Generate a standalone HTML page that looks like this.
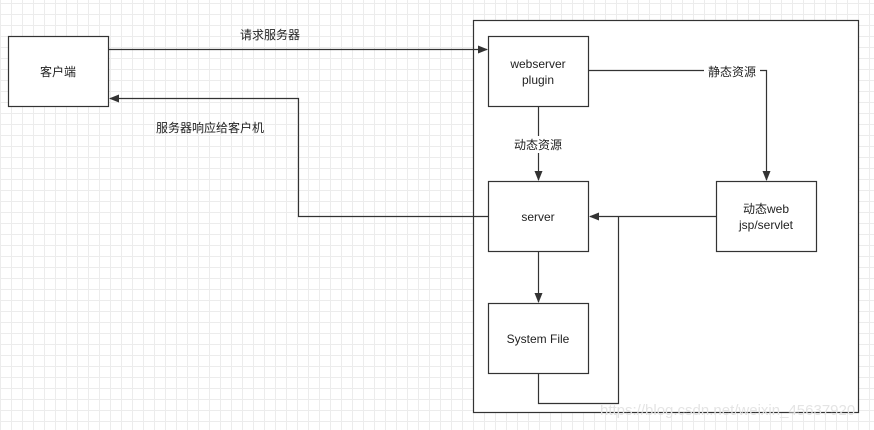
<!DOCTYPE html>
<html><head><meta charset="utf-8"><style>
body{margin:0;width:874px;height:430px;overflow:hidden;background:#fff;
background-image:linear-gradient(#ececec 1px,transparent 1px),linear-gradient(90deg,#ececec 1px,transparent 1px);
background-size:11px 11px;background-position:0 3px;}
svg{position:absolute;left:0;top:0}
text{font-family:"Liberation Sans","Noto Sans CJK SC",sans-serif;font-size:12px;fill:#222}
</style></head><body>
<svg width="874" height="430">
<defs><marker id="a" markerWidth="10" markerHeight="8" refX="9" refY="4" orient="auto" markerUnits="userSpaceOnUse"><path d="M0,0L10,4L0,8z" fill="#333"/></marker></defs>
<g fill="#fff" stroke="#333" stroke-width="1.2">
<rect x="473.5" y="20.5" width="385" height="392"/>
<rect x="8.5" y="36.5" width="100" height="70"/>
<rect x="488.5" y="36.5" width="100" height="70"/>
<rect x="488.5" y="181.5" width="100" height="70"/>
<rect x="488.5" y="303.5" width="100" height="70"/>
<rect x="716.5" y="181.5" width="100" height="70"/>
</g>
<g fill="none" stroke="#333" stroke-width="1.2">
<path d="M108.5,49.5H487" marker-end="url(#a)"/>
<path d="M488,216.5H298.5V98.5H110" marker-end="url(#a)"/>
<path d="M538.5,106V180" marker-end="url(#a)"/>
<path d="M588,70.5H766.5V180" marker-end="url(#a)"/>
<path d="M716,216.5H590" marker-end="url(#a)"/>
<path d="M538.5,251V302" marker-end="url(#a)"/>
<path d="M538.5,373V403.5H618.5V216.5"/>
</g>
<rect x="508" y="136" width="60" height="17" fill="#fff"/>
<rect x="704" y="64" width="56" height="16" fill="#fff"/>
<text x="58" y="76" text-anchor="middle">客户端</text>
<text x="270" y="39" text-anchor="middle">请求服务器</text>
<text x="210" y="132" text-anchor="middle">服务器响应给客户机</text>
<text x="538" y="68" text-anchor="middle">webserver</text>
<text x="538" y="84" text-anchor="middle">plugin</text>
<text x="538" y="149" text-anchor="middle">动态资源</text>
<text x="732" y="76" text-anchor="middle">静态资源</text>
<text x="538" y="221" text-anchor="middle">server</text>
<text x="538" y="343" text-anchor="middle">System File</text>
<text x="766" y="213" text-anchor="middle">动态web</text>
<text x="766" y="229" text-anchor="middle">jsp/servlet</text>
<text x="600" y="415" style="font-size:15px;fill:#e4e4e4">https://blog.csdn.net/weixin_45637920</text>
</svg>
</body></html>
